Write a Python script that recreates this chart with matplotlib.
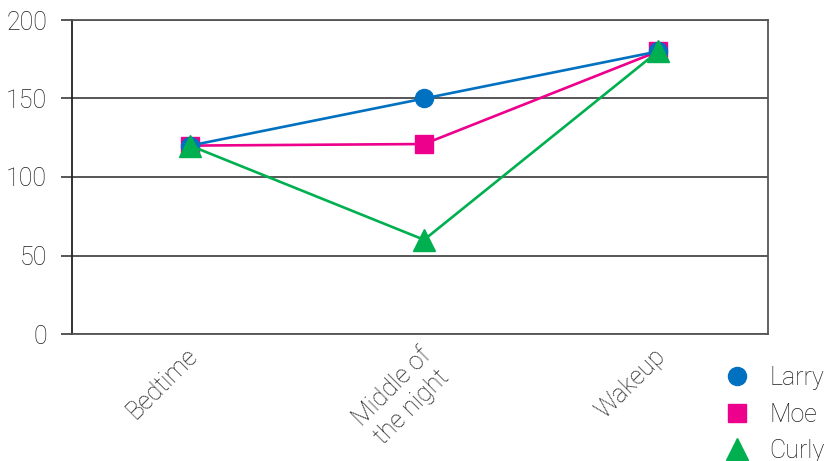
import matplotlib
matplotlib.use("Agg")
import matplotlib.pyplot as plt
from matplotlib.transforms import ScaledTranslation

categories = ["Bedtime", "Middle of\nthe night", "Wakeup"]
larry = [120, 150, 180]
moe = [120, 121, 180]
curly = [120, 60, 180]
yticks = [0, 50, 100, 150, 200]

plt.rcParams['font.family'] = ['Roboto', 'DejaVu Sans']
TXT = '#1e1e1e'
FS = 18
W = 'light'

fig = plt.figure(figsize=(8.33, 4.61), dpi=100)
ax = fig.add_axes([72/833, 1-334/461, (768-72)/833, (334-20)/461])

x = list(range(len(categories)))
h_moe, = ax.plot(x, moe, color='#EC008C', lw=1.9, marker='s', ms=13.5, mec='#EC008C', zorder=3, label='Moe')
h_larry, = ax.plot(x, larry, color='#0070C0', lw=1.9, marker='o', ms=13, mec='#0070C0', zorder=4, label='Larry')
h_curly, = ax.plot(x, curly, color='#00B050', lw=1.9, marker='^', ms=16, mec='#00B050', zorder=5, label='Curly')

ax.set_xlim(-0.505, 2.47)
ax.set_ylim(0, 200)
ax.set_yticks(yticks)
ax.set_yticklabels([str(v) for v in yticks], fontsize=FS, color=TXT, fontweight=W)
ax.yaxis.grid(True, color='#3a3a3a', lw=1.2)
ax.set_axisbelow(True)
ax.tick_params(axis='y', length=8, width=1.2, color='#3a3a3a', pad=10)
ax.set_xticks(x)
ax.set_xticklabels(categories, fontsize=FS, color=TXT, fontweight=W,
                   rotation=45, ha='right', va='top', rotation_mode='anchor',
                   multialignment='center', linespacing=1.2)
ax.tick_params(axis='x', length=0, pad=7)
shift = ScaledTranslation(-5/100, 0, fig.dpi_scale_trans)
for lbl in ax.get_xticklabels():
    lbl.set_transform(lbl.get_transform() + shift)

for s in ['top', 'right', 'bottom']:
    ax.spines[s].set_color('#555555')
    ax.spines[s].set_linewidth(1.3)
ax.spines['left'].set_color('#222222')
ax.spines['left'].set_linewidth(1.3)

leg = fig.legend([h_larry, h_moe, h_curly], ['Larry', 'Moe', 'Curly'],
                 loc='upper left', bbox_to_anchor=(724/833, 1-366/461),
                 frameon=False, borderpad=0, borderaxespad=0,
                 handlelength=1.0, handletextpad=0.8, labelspacing=0.5,
                 prop={'size': FS, 'weight': W})
for line in leg.get_lines():
    line.set_linestyle('none')
for t in leg.get_texts():
    t.set_color(TXT)

fig.savefig('out.png', dpi=100)
